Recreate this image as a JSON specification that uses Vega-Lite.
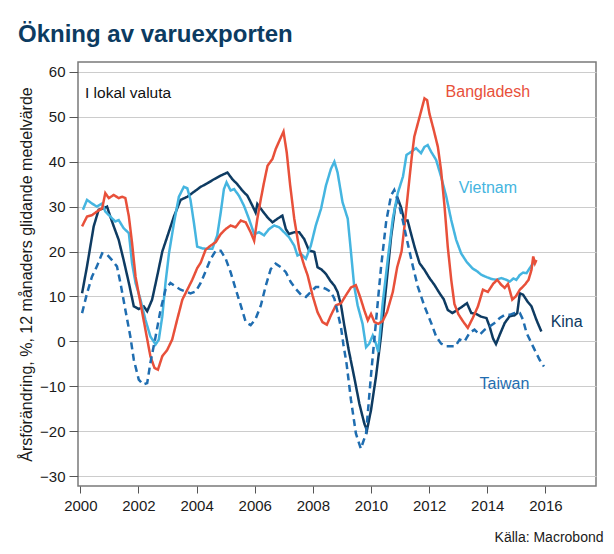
{
  "$schema": "https://vega.github.io/schema/vega-lite/v6.json",
  "width": 518,
  "height": 424,
  "autosize": {"type": "none"},
  "padding": {"left": 78, "top": 62, "right": 18, "bottom": 68},
  "background": "white",
  "title": {"text": "Ökning av varuexporten", "anchor": "start", "frame": "group", "dx": -60, "offset": -4, "baseline": "alphabetic", "fontSize": 24, "fontWeight": "bold", "font": "Liberation Sans", "color": "#0C3B61"},
  "config": {
    "font": "Liberation Sans",
    "view": {"stroke": "#7a7a7a", "strokeWidth": 1.5},
    "axis": {"labelFont": "Liberation Sans", "titleFont": "Liberation Sans", "labelColor": "#1a1a1a", "titleColor": "#1a1a1a", "tickColor": "#555555", "domain": false}
  },
  "datasets": {
    "series": [
      {"s":"Kina","t":2000.06,"v":10.7},{"s":"Kina","t":2000.23,"v":16.7},{"s":"Kina","t":2000.46,"v":25.6},{"s":"Kina","t":2000.63,"v":29.3},{"s":"Kina","t":2000.8,"v":29.6},{"s":"Kina","t":2000.92,"v":30},{"s":"Kina","t":2001.03,"v":27.8},{"s":"Kina","t":2001.15,"v":25.6},{"s":"Kina","t":2001.32,"v":22.6},{"s":"Kina","t":2001.49,"v":18.1},{"s":"Kina","t":2001.67,"v":13},{"s":"Kina","t":2001.84,"v":7.8},{"s":"Kina","t":2002.01,"v":7.2},{"s":"Kina","t":2002.18,"v":7.8},{"s":"Kina","t":2002.3,"v":6.7},{"s":"Kina","t":2002.47,"v":9.3},{"s":"Kina","t":2002.64,"v":14.4},{"s":"Kina","t":2002.82,"v":20},{"s":"Kina","t":2002.99,"v":23.3},{"s":"Kina","t":2003.22,"v":27.8},{"s":"Kina","t":2003.45,"v":31.5},{"s":"Kina","t":2003.68,"v":32.2},{"s":"Kina","t":2003.91,"v":33.3},{"s":"Kina","t":2004.14,"v":34.4},{"s":"Kina","t":2004.37,"v":35.2},{"s":"Kina","t":2004.6,"v":36.1},{"s":"Kina","t":2004.83,"v":36.9},{"s":"Kina","t":2005.06,"v":37.6},{"s":"Kina","t":2005.23,"v":36.1},{"s":"Kina","t":2005.4,"v":35},{"s":"Kina","t":2005.57,"v":33.6},{"s":"Kina","t":2005.75,"v":32.4},{"s":"Kina","t":2005.92,"v":30.2},{"s":"Kina","t":2006.03,"v":28.7},{"s":"Kina","t":2006.09,"v":30.6},{"s":"Kina","t":2006.26,"v":29.1},{"s":"Kina","t":2006.44,"v":27.6},{"s":"Kina","t":2006.61,"v":26.5},{"s":"Kina","t":2006.78,"v":27.3},{"s":"Kina","t":2006.95,"v":28},{"s":"Kina","t":2007.07,"v":25},{"s":"Kina","t":2007.18,"v":23.9},{"s":"Kina","t":2007.36,"v":24.3},{"s":"Kina","t":2007.53,"v":24.3},{"s":"Kina","t":2007.7,"v":22.8},{"s":"Kina","t":2007.87,"v":20.2},{"s":"Kina","t":2008.05,"v":19.9},{"s":"Kina","t":2008.16,"v":16.5},{"s":"Kina","t":2008.3,"v":16},{"s":"Kina","t":2008.45,"v":15},{"s":"Kina","t":2008.6,"v":13.5},{"s":"Kina","t":2008.74,"v":12.4},{"s":"Kina","t":2008.85,"v":11},{"s":"Kina","t":2008.97,"v":8},{"s":"Kina","t":2009.08,"v":3.6},{"s":"Kina","t":2009.22,"v":-1.5},{"s":"Kina","t":2009.42,"v":-7.9},{"s":"Kina","t":2009.6,"v":-13.9},{"s":"Kina","t":2009.77,"v":-18.3},{"s":"Kina","t":2009.86,"v":-19.8},{"s":"Kina","t":2010.0,"v":-15.3},{"s":"Kina","t":2010.17,"v":-7.9},{"s":"Kina","t":2010.34,"v":1},{"s":"Kina","t":2010.52,"v":12.1},{"s":"Kina","t":2010.69,"v":23.2},{"s":"Kina","t":2010.83,"v":29.9},{"s":"Kina","t":2010.92,"v":31.8},{"s":"Kina","t":2011.03,"v":29.9},{"s":"Kina","t":2011.15,"v":26.9},{"s":"Kina","t":2011.26,"v":26.9},{"s":"Kina","t":2011.38,"v":23.9},{"s":"Kina","t":2011.5,"v":21},{"s":"Kina","t":2011.67,"v":17.4},{"s":"Kina","t":2011.84,"v":15.9},{"s":"Kina","t":2012.01,"v":14.1},{"s":"Kina","t":2012.18,"v":12.6},{"s":"Kina","t":2012.36,"v":10.7},{"s":"Kina","t":2012.5,"v":9.4},{"s":"Kina","t":2012.64,"v":7},{"s":"Kina","t":2012.8,"v":6.3},{"s":"Kina","t":2012.97,"v":7},{"s":"Kina","t":2013.15,"v":7.8},{"s":"Kina","t":2013.3,"v":8.5},{"s":"Kina","t":2013.45,"v":6.3},{"s":"Kina","t":2013.62,"v":6.1},{"s":"Kina","t":2013.79,"v":5.5},{"s":"Kina","t":2013.97,"v":5.2},{"s":"Kina","t":2014.08,"v":3.3},{"s":"Kina","t":2014.2,"v":0.6},{"s":"Kina","t":2014.3,"v":-0.6},{"s":"Kina","t":2014.43,"v":1.5},{"s":"Kina","t":2014.6,"v":4.1},{"s":"Kina","t":2014.77,"v":5.6},{"s":"Kina","t":2014.94,"v":5.8},{"s":"Kina","t":2015.03,"v":6.3},{"s":"Kina","t":2015.12,"v":10.7},{"s":"Kina","t":2015.23,"v":10.4},{"s":"Kina","t":2015.38,"v":8.9},{"s":"Kina","t":2015.52,"v":7.8},{"s":"Kina","t":2015.69,"v":4.8},{"s":"Kina","t":2015.86,"v":2.2},
      {"s":"Vietnam","t":2000.09,"v":29.3},{"s":"Vietnam","t":2000.23,"v":31.5},{"s":"Vietnam","t":2000.4,"v":30.7},{"s":"Vietnam","t":2000.57,"v":30},{"s":"Vietnam","t":2000.75,"v":30.7},{"s":"Vietnam","t":2000.86,"v":28.9},{"s":"Vietnam","t":2001.03,"v":27.8},{"s":"Vietnam","t":2001.2,"v":26.7},{"s":"Vietnam","t":2001.32,"v":27},{"s":"Vietnam","t":2001.49,"v":25.2},{"s":"Vietnam","t":2001.67,"v":24.1},{"s":"Vietnam","t":2001.78,"v":17.4},{"s":"Vietnam","t":2001.9,"v":13},{"s":"Vietnam","t":2002.07,"v":9.3},{"s":"Vietnam","t":2002.24,"v":4.8},{"s":"Vietnam","t":2002.41,"v":1.1},{"s":"Vietnam","t":2002.59,"v":-0.7},{"s":"Vietnam","t":2002.7,"v":0.4},{"s":"Vietnam","t":2002.82,"v":5.6},{"s":"Vietnam","t":2002.93,"v":13},{"s":"Vietnam","t":2003.05,"v":19.6},{"s":"Vietnam","t":2003.22,"v":26.3},{"s":"Vietnam","t":2003.39,"v":32.2},{"s":"Vietnam","t":2003.56,"v":34.4},{"s":"Vietnam","t":2003.68,"v":34.1},{"s":"Vietnam","t":2003.79,"v":31.5},{"s":"Vietnam","t":2003.91,"v":26.3},{"s":"Vietnam","t":2004.02,"v":21.1},{"s":"Vietnam","t":2004.2,"v":20.7},{"s":"Vietnam","t":2004.37,"v":20.6},{"s":"Vietnam","t":2004.54,"v":20.6},{"s":"Vietnam","t":2004.71,"v":23.6},{"s":"Vietnam","t":2004.83,"v":28.7},{"s":"Vietnam","t":2004.94,"v":33.9},{"s":"Vietnam","t":2005.03,"v":35.4},{"s":"Vietnam","t":2005.17,"v":33.6},{"s":"Vietnam","t":2005.29,"v":33.9},{"s":"Vietnam","t":2005.46,"v":32.4},{"s":"Vietnam","t":2005.63,"v":30.2},{"s":"Vietnam","t":2005.8,"v":27.3},{"s":"Vietnam","t":2005.98,"v":23.9},{"s":"Vietnam","t":2006.15,"v":24.3},{"s":"Vietnam","t":2006.32,"v":23.6},{"s":"Vietnam","t":2006.49,"v":25},{"s":"Vietnam","t":2006.67,"v":25.8},{"s":"Vietnam","t":2006.84,"v":25.4},{"s":"Vietnam","t":2007.01,"v":24.3},{"s":"Vietnam","t":2007.18,"v":23.2},{"s":"Vietnam","t":2007.36,"v":21.3},{"s":"Vietnam","t":2007.47,"v":19.1},{"s":"Vietnam","t":2007.59,"v":19.5},{"s":"Vietnam","t":2007.76,"v":18.4},{"s":"Vietnam","t":2007.93,"v":21.3},{"s":"Vietnam","t":2008.1,"v":25.8},{"s":"Vietnam","t":2008.28,"v":29.5},{"s":"Vietnam","t":2008.45,"v":34.7},{"s":"Vietnam","t":2008.62,"v":38.4},{"s":"Vietnam","t":2008.74,"v":40},{"s":"Vietnam","t":2008.85,"v":37.6},{"s":"Vietnam","t":2009.02,"v":31},{"s":"Vietnam","t":2009.2,"v":27.3},{"s":"Vietnam","t":2009.31,"v":19.9},{"s":"Vietnam","t":2009.42,"v":12.4},{"s":"Vietnam","t":2009.54,"v":8},{"s":"Vietnam","t":2009.71,"v":3.9},{"s":"Vietnam","t":2009.83,"v":-1.3},{"s":"Vietnam","t":2009.94,"v":-0.5},{"s":"Vietnam","t":2010.06,"v":1.3},{"s":"Vietnam","t":2010.17,"v":-0.5},{"s":"Vietnam","t":2010.25,"v":-2.4},{"s":"Vietnam","t":2010.4,"v":8.4},{"s":"Vietnam","t":2010.6,"v":19.5},{"s":"Vietnam","t":2010.75,"v":27.3},{"s":"Vietnam","t":2010.92,"v":33},{"s":"Vietnam","t":2011.1,"v":36.7},{"s":"Vietnam","t":2011.22,"v":41.5},{"s":"Vietnam","t":2011.38,"v":42.2},{"s":"Vietnam","t":2011.55,"v":43},{"s":"Vietnam","t":2011.72,"v":41.9},{"s":"Vietnam","t":2011.84,"v":43.3},{"s":"Vietnam","t":2011.95,"v":43.7},{"s":"Vietnam","t":2012.07,"v":42.2},{"s":"Vietnam","t":2012.24,"v":40.4},{"s":"Vietnam","t":2012.41,"v":36.7},{"s":"Vietnam","t":2012.59,"v":32.2},{"s":"Vietnam","t":2012.76,"v":27},{"s":"Vietnam","t":2012.93,"v":22.6},{"s":"Vietnam","t":2013.1,"v":19.6},{"s":"Vietnam","t":2013.3,"v":17.6},{"s":"Vietnam","t":2013.5,"v":16.2},{"s":"Vietnam","t":2013.65,"v":15.6},{"s":"Vietnam","t":2013.8,"v":14.8},{"s":"Vietnam","t":2013.98,"v":14.3},{"s":"Vietnam","t":2014.14,"v":13.9},{"s":"Vietnam","t":2014.31,"v":13.7},{"s":"Vietnam","t":2014.48,"v":14.1},{"s":"Vietnam","t":2014.66,"v":13.7},{"s":"Vietnam","t":2014.77,"v":13.3},{"s":"Vietnam","t":2014.9,"v":14},{"s":"Vietnam","t":2015.0,"v":13.7},{"s":"Vietnam","t":2015.12,"v":14.8},{"s":"Vietnam","t":2015.23,"v":15.3},{"s":"Vietnam","t":2015.35,"v":15.2},{"s":"Vietnam","t":2015.46,"v":16.3},{"s":"Vietnam","t":2015.58,"v":17.4},{"s":"Vietnam","t":2015.66,"v":17.8},
      {"s":"Bangladesh","t":2000.06,"v":25.6},{"s":"Bangladesh","t":2000.23,"v":27.8},{"s":"Bangladesh","t":2000.4,"v":28.1},{"s":"Bangladesh","t":2000.57,"v":28.9},{"s":"Bangladesh","t":2000.75,"v":29.6},{"s":"Bangladesh","t":2000.86,"v":33},{"s":"Bangladesh","t":2000.98,"v":31.9},{"s":"Bangladesh","t":2001.15,"v":32.6},{"s":"Bangladesh","t":2001.32,"v":31.9},{"s":"Bangladesh","t":2001.44,"v":32.2},{"s":"Bangladesh","t":2001.55,"v":31.9},{"s":"Bangladesh","t":2001.67,"v":27.8},{"s":"Bangladesh","t":2001.78,"v":21.9},{"s":"Bangladesh","t":2001.9,"v":14.4},{"s":"Bangladesh","t":2002.07,"v":8.5},{"s":"Bangladesh","t":2002.24,"v":2.6},{"s":"Bangladesh","t":2002.41,"v":-3.3},{"s":"Bangladesh","t":2002.55,"v":-5.9},{"s":"Bangladesh","t":2002.67,"v":-6.3},{"s":"Bangladesh","t":2002.82,"v":-3.3},{"s":"Bangladesh","t":2002.99,"v":-1.9},{"s":"Bangladesh","t":2003.16,"v":0.4},{"s":"Bangladesh","t":2003.33,"v":4.8},{"s":"Bangladesh","t":2003.51,"v":9.3},{"s":"Bangladesh","t":2003.68,"v":11.5},{"s":"Bangladesh","t":2003.85,"v":13.7},{"s":"Bangladesh","t":2004.02,"v":16.3},{"s":"Bangladesh","t":2004.14,"v":17.5},{"s":"Bangladesh","t":2004.31,"v":20.4},{"s":"Bangladesh","t":2004.48,"v":21.3},{"s":"Bangladesh","t":2004.66,"v":22.1},{"s":"Bangladesh","t":2004.83,"v":23.9},{"s":"Bangladesh","t":2005.0,"v":25},{"s":"Bangladesh","t":2005.17,"v":25.8},{"s":"Bangladesh","t":2005.34,"v":25.4},{"s":"Bangladesh","t":2005.52,"v":26.9},{"s":"Bangladesh","t":2005.69,"v":26.5},{"s":"Bangladesh","t":2005.86,"v":24.3},{"s":"Bangladesh","t":2005.98,"v":22.4},{"s":"Bangladesh","t":2006.09,"v":27.3},{"s":"Bangladesh","t":2006.21,"v":31.7},{"s":"Bangladesh","t":2006.32,"v":35.4},{"s":"Bangladesh","t":2006.44,"v":39.1},{"s":"Bangladesh","t":2006.61,"v":40.6},{"s":"Bangladesh","t":2006.72,"v":42.8},{"s":"Bangladesh","t":2006.87,"v":45},{"s":"Bangladesh","t":2006.99,"v":46.7},{"s":"Bangladesh","t":2007.1,"v":42.1},{"s":"Bangladesh","t":2007.22,"v":34.7},{"s":"Bangladesh","t":2007.36,"v":27.3},{"s":"Bangladesh","t":2007.53,"v":20.6},{"s":"Bangladesh","t":2007.7,"v":16.9},{"s":"Bangladesh","t":2007.82,"v":14.7},{"s":"Bangladesh","t":2007.99,"v":10.2},{"s":"Bangladesh","t":2008.16,"v":6.5},{"s":"Bangladesh","t":2008.33,"v":4.3},{"s":"Bangladesh","t":2008.48,"v":3.7},{"s":"Bangladesh","t":2008.62,"v":5.8},{"s":"Bangladesh","t":2008.79,"v":8},{"s":"Bangladesh","t":2008.97,"v":8.5},{"s":"Bangladesh","t":2009.14,"v":10.3},{"s":"Bangladesh","t":2009.31,"v":12},{"s":"Bangladesh","t":2009.48,"v":12.5},{"s":"Bangladesh","t":2009.63,"v":9.8},{"s":"Bangladesh","t":2009.77,"v":6.9},{"s":"Bangladesh","t":2009.89,"v":4.7},{"s":"Bangladesh","t":2010.0,"v":6.1},{"s":"Bangladesh","t":2010.12,"v":4.3},{"s":"Bangladesh","t":2010.25,"v":3.9},{"s":"Bangladesh","t":2010.4,"v":4.5},{"s":"Bangladesh","t":2010.55,"v":6.5},{"s":"Bangladesh","t":2010.75,"v":11},{"s":"Bangladesh","t":2010.9,"v":16.5},{"s":"Bangladesh","t":2011.05,"v":20},{"s":"Bangladesh","t":2011.15,"v":25.5},{"s":"Bangladesh","t":2011.28,"v":33.6},{"s":"Bangladesh","t":2011.4,"v":41},{"s":"Bangladesh","t":2011.49,"v":45.6},{"s":"Bangladesh","t":2011.61,"v":48.5},{"s":"Bangladesh","t":2011.75,"v":51.9},{"s":"Bangladesh","t":2011.84,"v":54.1},{"s":"Bangladesh","t":2011.93,"v":53.7},{"s":"Bangladesh","t":2012.01,"v":50.7},{"s":"Bangladesh","t":2012.16,"v":47},{"s":"Bangladesh","t":2012.3,"v":43.3},{"s":"Bangladesh","t":2012.41,"v":38.1},{"s":"Bangladesh","t":2012.53,"v":30},{"s":"Bangladesh","t":2012.64,"v":21.1},{"s":"Bangladesh","t":2012.76,"v":13.7},{"s":"Bangladesh","t":2012.87,"v":8.3},{"s":"Bangladesh","t":2013.01,"v":6},{"s":"Bangladesh","t":2013.16,"v":4.5},{"s":"Bangladesh","t":2013.33,"v":3},{"s":"Bangladesh","t":2013.5,"v":5.2},{"s":"Bangladesh","t":2013.68,"v":7.8},{"s":"Bangladesh","t":2013.85,"v":11.5},{"s":"Bangladesh","t":2014.02,"v":11},{"s":"Bangladesh","t":2014.2,"v":12.8},{"s":"Bangladesh","t":2014.34,"v":13.7},{"s":"Bangladesh","t":2014.48,"v":12.6},{"s":"Bangladesh","t":2014.6,"v":11.9},{"s":"Bangladesh","t":2014.71,"v":12.8},{"s":"Bangladesh","t":2014.86,"v":9.3},{"s":"Bangladesh","t":2014.98,"v":10},{"s":"Bangladesh","t":2015.12,"v":11.5},{"s":"Bangladesh","t":2015.29,"v":12.6},{"s":"Bangladesh","t":2015.42,"v":13.7},{"s":"Bangladesh","t":2015.52,"v":15.9},{"s":"Bangladesh","t":2015.58,"v":18.9},{"s":"Bangladesh","t":2015.64,"v":17.4},{"s":"Bangladesh","t":2015.69,"v":18.1},
      {"s":"Taiwan","t":2000.06,"v":6.3},{"s":"Taiwan","t":2000.23,"v":10.7},{"s":"Taiwan","t":2000.4,"v":14.4},{"s":"Taiwan","t":2000.57,"v":16.7},{"s":"Taiwan","t":2000.75,"v":19.6},{"s":"Taiwan","t":2000.92,"v":19.3},{"s":"Taiwan","t":2001.09,"v":18.1},{"s":"Taiwan","t":2001.26,"v":16.7},{"s":"Taiwan","t":2001.38,"v":13},{"s":"Taiwan","t":2001.55,"v":7},{"s":"Taiwan","t":2001.72,"v":1.1},{"s":"Taiwan","t":2001.84,"v":-4.1},{"s":"Taiwan","t":2002.01,"v":-8.5},{"s":"Taiwan","t":2002.16,"v":-9.6},{"s":"Taiwan","t":2002.3,"v":-9.3},{"s":"Taiwan","t":2002.41,"v":-4.8},{"s":"Taiwan","t":2002.59,"v":1.1},{"s":"Taiwan","t":2002.76,"v":7},{"s":"Taiwan","t":2002.93,"v":11.5},{"s":"Taiwan","t":2003.1,"v":13},{"s":"Taiwan","t":2003.28,"v":12.2},{"s":"Taiwan","t":2003.45,"v":11.5},{"s":"Taiwan","t":2003.62,"v":11.1},{"s":"Taiwan","t":2003.79,"v":10.7},{"s":"Taiwan","t":2003.97,"v":11.1},{"s":"Taiwan","t":2004.14,"v":13},{"s":"Taiwan","t":2004.31,"v":15.6},{"s":"Taiwan","t":2004.48,"v":18.3},{"s":"Taiwan","t":2004.66,"v":20.2},{"s":"Taiwan","t":2004.83,"v":20.2},{"s":"Taiwan","t":2005.0,"v":18.4},{"s":"Taiwan","t":2005.17,"v":15.4},{"s":"Taiwan","t":2005.34,"v":11.7},{"s":"Taiwan","t":2005.52,"v":8},{"s":"Taiwan","t":2005.69,"v":4.3},{"s":"Taiwan","t":2005.86,"v":3.6},{"s":"Taiwan","t":2006.03,"v":5},{"s":"Taiwan","t":2006.21,"v":8},{"s":"Taiwan","t":2006.38,"v":12.4},{"s":"Taiwan","t":2006.55,"v":16.1},{"s":"Taiwan","t":2006.72,"v":17.3},{"s":"Taiwan","t":2006.9,"v":16.5},{"s":"Taiwan","t":2007.07,"v":15.4},{"s":"Taiwan","t":2007.24,"v":13.2},{"s":"Taiwan","t":2007.41,"v":11.7},{"s":"Taiwan","t":2007.59,"v":10.4},{"s":"Taiwan","t":2007.76,"v":9.9},{"s":"Taiwan","t":2007.93,"v":11},{"s":"Taiwan","t":2008.1,"v":12.1},{"s":"Taiwan","t":2008.28,"v":12.1},{"s":"Taiwan","t":2008.45,"v":11.7},{"s":"Taiwan","t":2008.62,"v":11},{"s":"Taiwan","t":2008.74,"v":9.5},{"s":"Taiwan","t":2008.85,"v":6.5},{"s":"Taiwan","t":2008.97,"v":3},{"s":"Taiwan","t":2009.05,"v":-0.7},{"s":"Taiwan","t":2009.16,"v":-5},{"s":"Taiwan","t":2009.31,"v":-13},{"s":"Taiwan","t":2009.48,"v":-20.5},{"s":"Taiwan","t":2009.65,"v":-23.9},{"s":"Taiwan","t":2009.83,"v":-20.5},{"s":"Taiwan","t":2010.0,"v":-7.5},{"s":"Taiwan","t":2010.17,"v":4.3},{"s":"Taiwan","t":2010.34,"v":16.2},{"s":"Taiwan","t":2010.52,"v":26.6},{"s":"Taiwan","t":2010.69,"v":32.5},{"s":"Taiwan","t":2010.8,"v":33.7},{"s":"Taiwan","t":2010.92,"v":31.5},{"s":"Taiwan","t":2011.09,"v":27},{"s":"Taiwan","t":2011.26,"v":21.9},{"s":"Taiwan","t":2011.44,"v":16.7},{"s":"Taiwan","t":2011.61,"v":12.2},{"s":"Taiwan","t":2011.84,"v":7.8},{"s":"Taiwan","t":2012.07,"v":4.1},{"s":"Taiwan","t":2012.24,"v":1.1},{"s":"Taiwan","t":2012.41,"v":-0.5},{"s":"Taiwan","t":2012.59,"v":-1.1},{"s":"Taiwan","t":2012.76,"v":-1.1},{"s":"Taiwan","t":2012.9,"v":-1.1},{"s":"Taiwan","t":2013.05,"v":0.4},{"s":"Taiwan","t":2013.22,"v":0},{"s":"Taiwan","t":2013.39,"v":1.9},{"s":"Taiwan","t":2013.56,"v":2.6},{"s":"Taiwan","t":2013.74,"v":1.5},{"s":"Taiwan","t":2013.91,"v":2.6},{"s":"Taiwan","t":2014.08,"v":3.3},{"s":"Taiwan","t":2014.25,"v":4.1},{"s":"Taiwan","t":2014.43,"v":5.2},{"s":"Taiwan","t":2014.6,"v":5.9},{"s":"Taiwan","t":2014.77,"v":5.9},{"s":"Taiwan","t":2014.94,"v":6.3},{"s":"Taiwan","t":2015.12,"v":6.3},{"s":"Taiwan","t":2015.23,"v":4.8},{"s":"Taiwan","t":2015.35,"v":1.9},{"s":"Taiwan","t":2015.46,"v":0.4},{"s":"Taiwan","t":2015.63,"v":-1.9},{"s":"Taiwan","t":2015.8,"v":-4.1},{"s":"Taiwan","t":2015.95,"v":-5.6}
    ],
    "labels": [
      {"s":"Bangladesh","t":2014.02,"v":55.5},
      {"s":"Vietnam","t":2014.02,"v":34.2},
      {"s":"Kina","t":2016.73,"v":4.3},
      {"s":"Taiwan","t":2014.59,"v":-9.6}
    ]
  },
  "encoding": {
    "x": {"field": "t", "type": "quantitative", "scale": {"domain": [1999.92, 2017.74], "nice": false, "zero": false},
      "axis": {"values": [2000,2002,2004,2006,2008,2010,2012,2014,2016], "format": "d", "grid": false, "tickSize": 7, "labelFontSize": 15, "labelPadding": 5,
        "title": "Källa: Macrobond", "titleFontSize": 14, "titleFontWeight": "normal", "titleAlign": "right", "titleBaseline": "alphabetic", "titleX": 525, "titleY": 55}},
    "y": {"field": "v", "type": "quantitative", "scale": {"domain": [-32.2, 62.2], "nice": false, "zero": false},
      "axis": {"values": [-30,-20,-10,0,10,20,30,40,50,60], "grid": true, "gridColor": "#cccccc", "gridWidth": 1, "tickSize": 9, "labelFontSize": 15, "labelPadding": 4,
        "title": "Årsförändring, %, 12 månaders glidande medelvärde", "titleFontSize": 16, "titleFontWeight": "normal", "titlePadding": 5}},
    "color": {"field": "s", "type": "nominal", "scale": {"domain": ["Bangladesh","Vietnam","Kina","Taiwan"], "range": ["#E8503A","#45B5E0","#0E3B62","#1F6DB0"]}, "legend": null}
  },
  "layer": [
    {"data": {"name": "series"},
     "mark": {"type": "line", "strokeWidth": 2.5, "clip": true},
     "encoding": {"strokeDash": {"field": "s", "type": "nominal", "scale": {"domain": ["Bangladesh","Vietnam","Kina","Taiwan"], "range": [[1,0],[1,0],[1,0],[7,4.5]]}, "legend": null}}},
    {"data": {"name": "labels"},
     "mark": {"type": "text", "fontSize": 16, "baseline": "middle", "align": "center"},
     "encoding": {"text": {"field": "s"}}},
    {"data": {"values": [{"t": 2000.16, "v": 55.3, "txt": "I lokal valuta"}]},
     "mark": {"type": "text", "fontSize": 15.5, "baseline": "middle", "align": "left", "color": "#111111"},
     "encoding": {"text": {"field": "txt"}, "color": {"value": "#111111"}}}
  ]
}
